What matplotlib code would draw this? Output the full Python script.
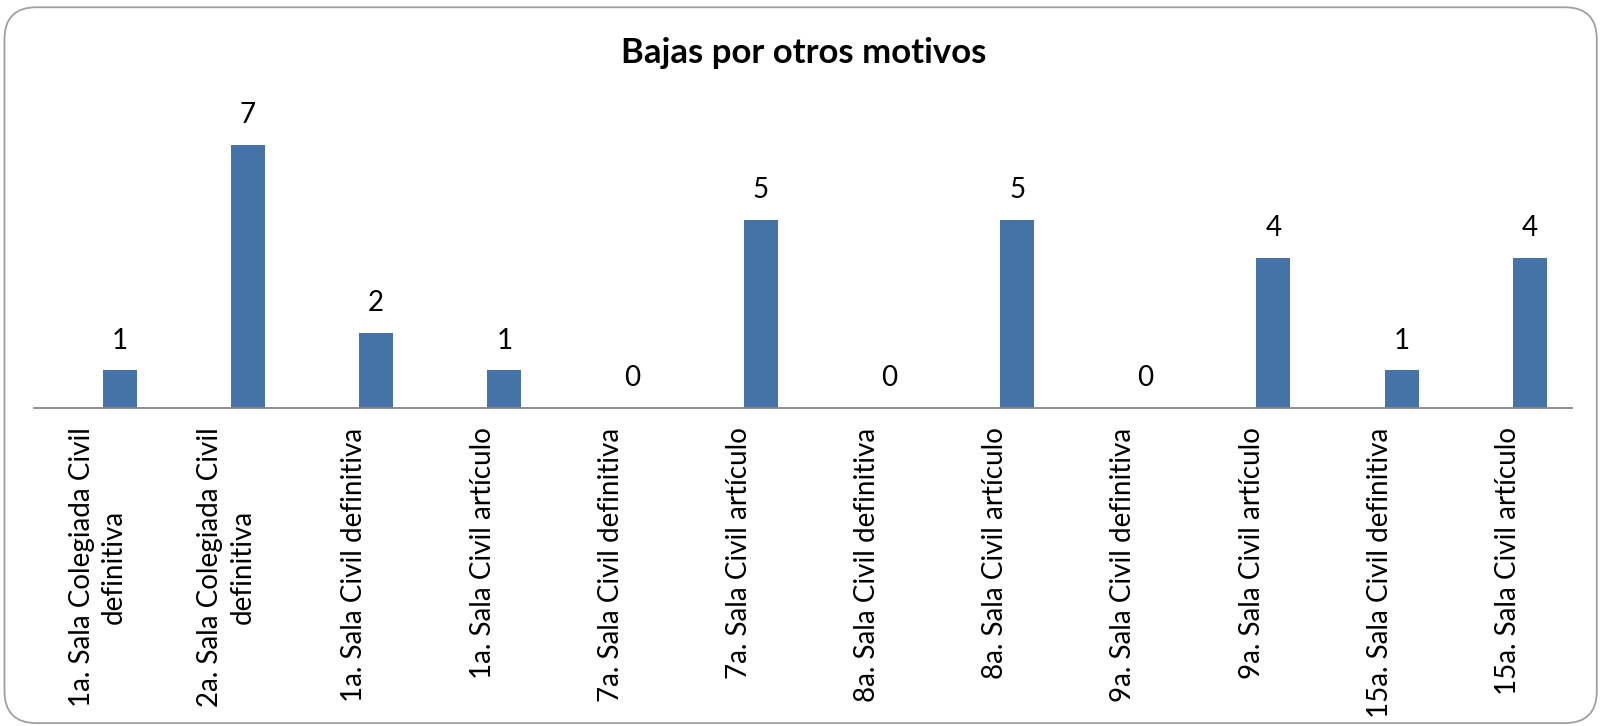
import numpy as np
import matplotlib.pyplot as plt
from matplotlib.patches import FancyBboxPatch

# data
categories = [
    "1a. Sala Colegiada Civil\ndefinitiva",
    "2a. Sala Colegiada Civil\ndefinitiva",
    "1a. Sala Civil definitiva",
    "1a. Sala Civil artículo",
    "7a. Sala Civil definitiva",
    "7a. Sala Civil artículo",
    "8a. Sala Civil definitiva",
    "8a. Sala Civil artículo",
    "9a. Sala Civil definitiva",
    "9a. Sala Civil artículo",
    "15a. Sala Civil definitiva",
    "15a. Sala Civil artículo",
]
values = [1, 7, 2, 1, 0, 5, 0, 5, 0, 4, 1, 4]
title = "Bajas por otros motivos"

plt.rcParams['font.family'] = ['Lato', 'DejaVu Sans']

fig = plt.figure(figsize=(16, 7.26), dpi=100)

# rounded chart frame, behind everything
frame = FancyBboxPatch((0.0028, 0.004), 0.9952, 0.986, boxstyle="round,pad=0,rounding_size=0.02",
                       transform=fig.transFigure, facecolor='white', edgecolor='#a0a0a0',
                       linewidth=1.3, mutation_aspect=1600 / 726, zorder=-10)
fig.patches.append(frame)

ax = fig.add_axes([0.02125, 0.438, 0.96125, 0.4146])
ax.patch.set_alpha(0)

x = np.arange(len(categories))
bar_x = x + 0.17
bars = ax.bar(bar_x, values, width=0.265, color='#4573A7')

for bx, v in zip(bar_x, values):
    ax.annotate(str(v), (bx, v), xytext=(0, 12), textcoords='offset points',
                ha='center', va='bottom', fontsize=20)

ax.set_xlim(-0.5, len(categories) - 0.5)
ax.set_ylim(0, 8)
ax.set_xticks(x)
ax.set_xticklabels(categories, rotation=90, fontsize=20, ha='center', va='top',
                   multialignment='center', linespacing=1.3)
ax.tick_params(axis='x', length=0, pad=14)
ax.set_yticks([])
for s in ['top', 'right', 'left']:
    ax.spines[s].set_visible(False)
ax.spines['bottom'].set_color('#868686')
ax.spines['bottom'].set_linewidth(1.3)

fig.text(0.5025, 0.927, title, ha='center', va='center', fontsize=25, fontweight='bold')

fig.savefig("out.png", dpi=100)
